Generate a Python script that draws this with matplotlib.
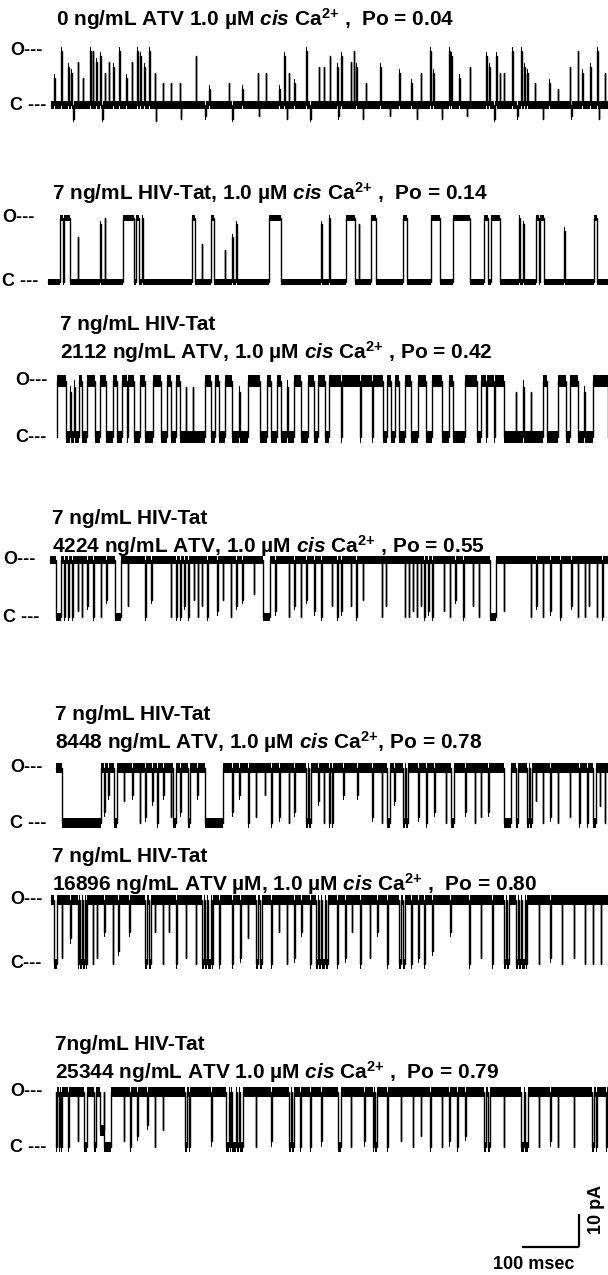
import matplotlib
matplotlib.use("Agg")
import matplotlib.pyplot as plt
import matplotlib.transforms as mtransforms
import numpy as np

plt.rcParams['font.family'] = ['Liberation Sans', 'DejaVu Sans']
plt.rcParams['font.weight'] = 'bold'
plt.rcParams['mathtext.fontset'] = 'custom'
plt.rcParams['mathtext.rm'] = 'Liberation Sans:bold'
plt.rcParams['mathtext.it'] = 'Liberation Sans:italic:bold'
plt.rcParams['mathtext.bf'] = 'Liberation Sans:bold'

# ---- data: single channel records, 1 s sweeps, time in ms ----
titles = [
    [r"0 ng/mL ATV 1.0 µM $\mathit{cis}$ Ca$^{2{+}}$ ,  Po = 0.04"],
    [r"7 ng/mL HIV-Tat, 1.0 µM $\mathit{cis}$ Ca$^{2{+}}$ ,  Po = 0.14"],
    ["7 ng/mL HIV-Tat", r"2112 ng/mL ATV, 1.0 µM $\mathit{cis}$ Ca$^{2{+}}$ , Po = 0.42"],
    ["7 ng/mL HIV-Tat", r"4224 ng/mL ATV, 1.0 µM $\mathit{cis}$ Ca$^{2{+}}$ , Po = 0.55"],
    ["7 ng/mL HIV-Tat", r"8448 ng/mL ATV, 1.0 µM $\mathit{cis}$ Ca$^{2{+}}$, Po = 0.78"],
    ["7 ng/mL HIV-Tat", r"16896 ng/mL ATV µM, 1.0 µM $\mathit{cis}$ Ca$^{2{+}}$ ,  Po = 0.80"],
    ["7ng/mL HIV-Tat", r"25344 ng/mL ATV 1.0 µM $\mathit{cis}$ Ca$^{2{+}}$ ,  Po = 0.79"],
]
amps = [16.4, 19.4, 17.0, 17.3, 16.7, 19.4, 16.7]      # unitary current, pA
noise = [1.2, 1.0, 1.9, 1.3, 1.5, 1.6, 1.6]            # baseline noise band, pA
rest_open = [False, False, False, True, True, True, True]
t_start = [10, 6, 22, 8, 19, 10, 19]                   # ms
t_end = 1000

# events: (start ms, duration ms, fraction of the way to the other level)
t1_events = [(16, 1, .5), (29, 1, 1), (41, 1, .7), (47, 1, .6), (58, 1, .8), (67, 1, .5),
             (80, 1.5, 1), (85, 1, 1), (91, 1, .8), (98, 1, .9), (106, 1, .6), (113, 1, .8),
             (121, 1, .7), (132, 1.5, 1), (144, 1, .5), (154, 1, .8), (164, 1.5, 1), (169, 1, .9),
             (176, 1, .7), (185, 1.5, 1), (195, 1, .6), (209, 1, .4), (223, 1, .4), (239, 1, .4),
             (268, 1, .9), (292, 1, .3), (326, 1, .4), (350, 1, .3), (378, 1, .6), (392, 1, .6),
             (416, 1, .3), (425, 1, .9), (433, 1, .6), (443, 1, .4), (464, 1.5, 1), (486, 1, .7),
             (495, 1, .7), (506, 1, .9), (519, 1, .7), (526, 1, .9), (543, 1, .8), (548, 1.5, 1),
             (553, 1, .7), (570, 1, .4), (595, 1, .7), (629, 1, .6), (650, 1, .4), (667, 1, .6),
             (684, 1.5, 1), (690, 1, .6), (718, 1.5, 1), (722, 1, .9), (736, 1, .5), (754, 1, .7),
             (784, 1, .9), (789, 1, .7), (801, 1, .9), (808, 1, .6), (815, 1, .6), (829, 1.5, 1),
             (846, 1.5, 1), (851, 1, .7), (857, 1, .6), (870, 1, .4), (896, 1, .4), (911, 1, .3),
             (932, 1, .7), (946, 1.5, 1), (954, 1, .6), (968, 1, .7), (980, 1.5, 1), (994, 1, .6),
             (50, .8, -.25), (102, .8, -.25), (197, .8, -.3), (241, .8, -.25), (285, .8, -.2),
             (333, .8, -.25), (380, .8, -.2), (429, .8, -.25), (471, .8, -.25), (521, .8, -.2),
             (564, .8, -.25), (612, .8, -.2), (660, .8, -.25), (705, .8, -.25), (749, .8, -.2),
             (798, .8, -.25), (839, .8, -.2), (884, .8, -.25), (935, .8, -.2), (984, .8, -.25)]

t2_events = [(27, 5, 1), (34, 10, 1), (58, 1, .7), (98, 1, .9), (106, 1, 1), (139, 19, 1),
             (161, 6, 1), (173, 1, 1), (261, 6, 1), (278, 1, .6), (294, 7, 1), (319, 1, .5),
             (333, 1, .7), (340, 1, .9), (397, 23, 1), (491, 1, .9), (505, 1, 1), (535, 15, 1),
             (557, 1, .9), (579, 9, 1), (635, 8, 1), (686, 15, 1), (724, 30, 1), (779, 7, 1),
             (793, 15, 1), (842, 1, 1), (849, 1, .9), (872, 5, 1), (879, 8, 1), (922, 1, .8),
             (975, 5, 1)]

t3_events = [(22, 15, 1), (45, 1, .8), (52, 1, .9), (61, 5, 1), (75, 14, 1), (98, 11, 1),
             (120, 7, 1), (137, 8, 1), (147, 11, 1), (168, 10, 1), (192, 14, 1), (216, 7, 1),
             (233, 7, 1), (250, 1, .9), (262, 1, .9), (285, 10, 1), (302, 7, 1), (319, 14, 1),
             (345, 1, .8), (361, 20, 1), (395, 7, 1), (412, 7, 1), (430, 1, .9), (443, 11, 1),
             (467, 11, 1), (485, 13, 1), (505, 20, 1), (527, 32, 1), (561, 20, 1), (583, 18, 1),
             (608, 7, 1), (622, 7, 1), (639, 11, 1), (663, 14, 1), (688, 17, 1), (718, 7, 1),
             (746, 21, 1), (774, 9, 1), (785, 12, 1), (799, 16, 1), (836, 1, .8), (849, 1, .9),
             (863, 1, .8), (884, 8, 1), (911, 14, 1), (932, 14, 1), (958, 1, .8), (973, 27, 1)]

t4_events = [(20, 9, 1), (34, 1.5, 1), (41, 1.5, 1), (48, 1, 1), (58, 1, .9), (65, 1, 1),
             (75, 1, .8), (85, 1.5, 1), (99, 1, 1), (109, 1, .7), (125, 10, 1), (147, 1, .8),
             (178, 1, 1), (189, 1, .7), (223, 1, 1), (233, 1, 1), (240, 1, 1), (247, 1, .8),
             (254, 1, 1), (264, 1, .7), (271, 1, 1), (278, 1, .8), (288, 1, 1), (306, 1, .9),
             (316, 1, .7), (330, 1, 1), (340, 1, .8), (350, 1, .7), (371, 1, .6), (388, 12, 1),
             (409, 1, .9), (433, 1, 1), (443, 1, .8), (454, 1, 1), (464, 1, .7), (478, 1, .9),
             (491, 1, 1), (509, 1, .8), (519, 1, 1), (526, 1, .9), (543, 1, .8), (553, 1, 1),
             (564, 1, .7), (598, 1, 1), (605, 1, .8), (639, 1, 1), (646, 1, 1), (653, 1, .9),
             (660, 1, 1), (667, 1, .8), (674, 1, 1), (681, 1, .9), (688, 1, 1), (708, 1, .9),
             (719, 1, 1), (729, 1, .7), (743, 1, 1), (760, 1, .8), (770, 1, 1), (791, 10, 1),
             (815, 1, .9), (863, 1, 1), (873, 1, .8), (884, 1, 1), (897, 1, .9), (915, 1, 1),
             (935, 1, .8), (946, 1, 1), (959, 1, 1), (966, 1, .8), (980, 1, 1), (990, 1, 1)]

t5_events = [(30, 69, 1), (105, 1, .8), (112, 1, .5), (123, 5, 1), (140, 1, .6), (155, 1, .5),
             (168, 1, 1), (178, 1, .9), (190, 1, .6), (199, 1, 1), (210, 1, .5), (223, 1, .9),
             (228, 5, 1), (240, 1, .8), (254, 4, 1), (270, 1, .5), (285, 31, 1), (333, 1, .8),
             (345, 1, .5), (361, 1, 1), (374, 1, .9), (390, 1, .5), (402, 1, 1), (416, 1, .9),
             (433, 1, 1), (443, 1, .8), (464, 3, 1), (469, 4, 1), (485, 1, .6), (495, 1, 1),
             (504, 3, 1), (509, 3, 1), (530, 1, .5), (555, 1, .5), (581, 1, .9), (598, 1, 1),
             (608, 5, 1), (620, 1, .6), (636, 3, 1), (641, 4, 1), (663, 1, .9), (677, 1, 1),
             (691, 1, .8), (712, 1, 1), (722, 5, 1), (746, 1, .8), (763, 1, 1), (774, 1, .9),
             (787, 1, .8), (815, 12, 1), (836, 5, 1), (856, 3, 1), (861, 4, 1), (872, 1, .6),
             (884, 1, 1), (897, 1, .9), (911, 1, 1), (932, 1, .9), (949, 1, 1), (963, 1, 1),
             (973, 5, 1), (985, 1, .7), (994, 1, 1)]

t6_events = [(16, 6, 1), (30, 1, .9), (45, 1, .6), (58, 3, 1), (63, 2, 1), (67, 4, 1),
             (73, 2, 1), (85, 1, 1), (92, 1, .9), (105, 1, .5), (120, 1, 1), (130, 1, .8),
             (150, 1, .5), (178, 4, 1), (184, 4, 1), (195, 1, .5), (209, 1, 1), (220, 1, .5),
             (233, 1, 1), (250, 1, .9), (268, 1, 1), (278, 4, 1), (284, 3, 1), (289, 5, 1),
             (296, 2, 1), (309, 1, 1), (333, 1, 1), (347, 1, .9), (360, 1, .6), (374, 5, 1),
             (381, 5, 1), (402, 1, 1), (415, 1, .5), (429, 1, 1), (443, 1, .9), (455, 1, .5),
             (471, 1, 1), (481, 4, 1), (487, 3, 1), (492, 5, 1), (499, 3, 1), (519, 1, 1),
             (533, 1, .9), (545, 1, .5), (560, 1, 1), (577, 1, .9), (590, 1, .5), (608, 1, 1),
             (629, 4, 1), (635, 4, 1), (650, 1, 1), (663, 1, .9), (674, 1, 1), (688, 1, .8),
             (720, 1, .5), (753, 1, 1), (774, 1, .9), (794, 1, 1), (815, 4, 1), (821, 4, 1),
             (836, 4, 1), (842, 3, 1), (847, 5, 1), (854, 2, 1), (877, 1, 1), (897, 1, .9),
             (918, 1, 1), (939, 1, .9), (959, 1, 1), (973, 1, 1), (987, 1, 1)]

t7_events = [(19.5, 2.5, 1), (24, 2, 1), (28, 3, 1), (41, 1, 1), (58, 1, .9), (70, 5, 1),
             (87, 4, 1), (98, 6, .7), (104.5, 13, 1), (140, 1, .9), (151, 1, 1), (164, 1, .8),
             (182, 1, .6), (195, 1, 1), (209, 1, .7), (249, 4, 1), (255, 3, 1), (295, 1, .9),
             (322, 4, 1), (328, 3, 1), (333, 6, 1), (341, 3, 1), (347, 5, 1), (374, 1, 1),
             (402, 1, .9), (433, 4, 1), (439, 4, 1), (453, 1, 1), (471, 1, 1), (491, 1, .9),
             (520, 6, 1), (543, 1, 1), (567, 1, .9), (582, 3, 1), (587, 3, 1), (608, 1, 1),
             (632, 1, .9), (653, 1, 1), (667, 1, .8), (684, 1, 1), (705, 1, 1), (718, 1, .9),
             (732, 1, 1), (746, 1, .8), (779, 5, 1), (786, 5, 1), (815, 1, 1), (846, 5, 1),
             (853, 5, 1), (877, 1, 1), (897, 1, .9), (911, 1, 1), (939, 1, 1), (972, 4, 1),
             (978, 3, 1), (997, 1, 1)]

all_events = [t1_events, t2_events, t3_events, t4_events, t5_events, t6_events, t7_events]

# scale bar
bar_ms = 100
bar_pA = 10

# ---- layout (pixels of the 608 x 1275 figure) ----
W, H = 608, 1275
px_per_ms = 0.563
x0_px = 45                     # where t = 0 sits
px_per_pA = 3.3
c_px = [105, 282, 437, 617, 823, 964, 1147]
title_px = [[19], [193], [325, 352], [518, 546], [714, 742], [857, 884], [1045, 1072]]
title_x = [56, 52, 60, 52, 55, 52, 55]
lab_x = [10, 2, 15, 3, 10, 10, 10]
o_lab = ["O---", "O---", "O---", "O---", "O---", "O---", "O---"]
c_lab = ["C ---", "C ---", "C---", "C ---", "C ---", "C---", "C ---"]
pad = 22


def build(events, t0, t1, base, other):
    t = [t0]
    y = [base]
    for s, d, f in sorted(events):
        lvl = base + f * (other - base)
        t += [s, s, s + d, s + d]
        y += [base, lvl, lvl, base]
    t.append(t1)
    y.append(base)
    return np.array(t, float), np.array(y, float)


fig = plt.figure(figsize=(W / 100, H / 100), dpi=100)
xlim = (-x0_px / px_per_ms, (W - x0_px) / px_per_ms)

for i in range(7):
    amp = amps[i]
    h_px = amp * px_per_pA + 2 * pad
    ax = fig.add_axes([0, 1 - (c_px[i] + pad) / H, 1, h_px / H])
    ax.set_xlim(*xlim)
    ax.set_ylim(-pad / px_per_pA, amp + pad / px_per_pA)
    ax.axis('off')

    base, other = (amp, 0.0) if rest_open[i] else (0.0, amp)
    t, y = build(all_events[i], t_start[i], t_end, base, other)
    n = noise[i]
    ax.fill_between(t, y - n, y + n, color='black', lw=0)
    ax.plot(t, y, color='black', lw=1.0)

    tr = mtransforms.blended_transform_factory(fig.transFigure, ax.transData)
    ax.text(lab_x[i] / W, amp, o_lab[i], transform=tr, ha='left', va='center',
            fontsize=13, fontweight='bold')
    ax.text(lab_x[i] / W, 0, c_lab[i], transform=tr, ha='left', va='center',
            fontsize=13, fontweight='bold')

    for line, ypx in zip(titles[i], title_px[i]):
        fig.text(title_x[i] / W, 1 - ypx / H, line, ha='left', va='center',
                 fontsize=15, fontweight='bold')

# scale bar
sb_bottom, sb_h = 1275, 100
axs = fig.add_axes([0, 1 - sb_bottom / H, 1, sb_h / H])
axs.set_xlim(*xlim)
axs.set_ylim(-(sb_bottom - 1247) / px_per_pA, (sb_h - (sb_bottom - 1247)) / px_per_pA)
axs.axis('off')
bx = 848
axs.plot([bx, bx + bar_ms], [0, 0], color='black', lw=1.6, solid_capstyle='butt')
axs.plot([bx + bar_ms, bx + bar_ms], [0, bar_pA], color='black', lw=1.6, solid_capstyle='butt')
axs.text(868, -5.2, f"{bar_ms} msec", ha='center', va='center', fontsize=13, fontweight='bold')
axs.text(980, 11.5, f"{bar_pA} pA", ha='center', va='center', rotation=90,
         fontsize=13, fontweight='bold')

fig.savefig("out.png", dpi=100)
